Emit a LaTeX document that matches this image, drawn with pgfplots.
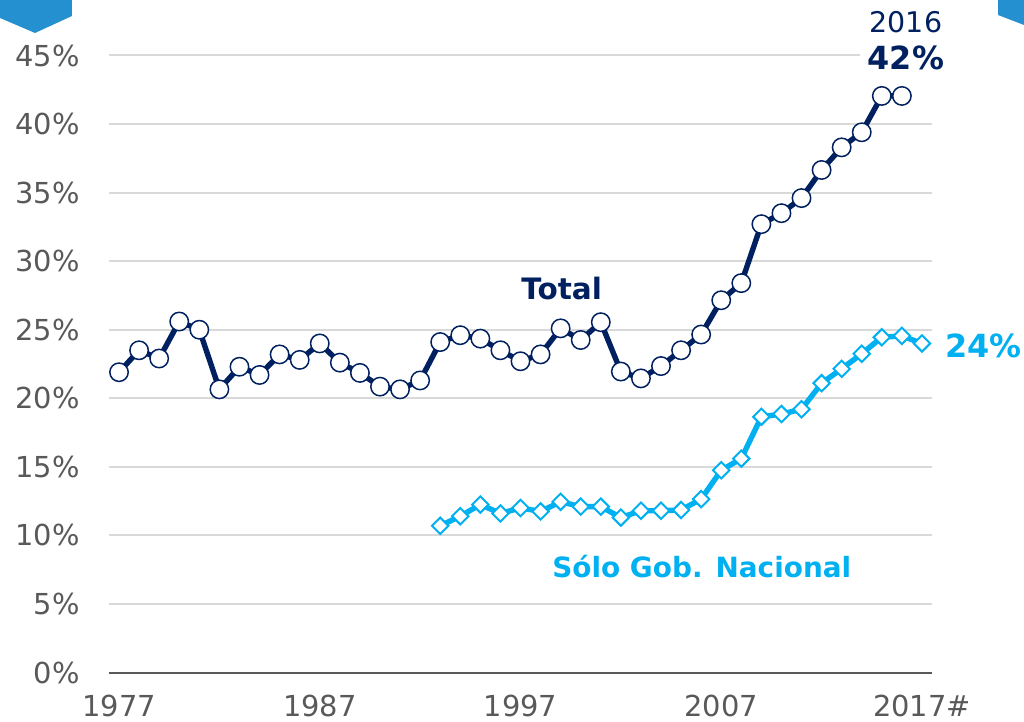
\documentclass[border=0pt]{standalone}
\usepackage{fontspec}
\setmainfont{DejaVu Sans}
\usepackage{pgfplots}
\pgfplotsset{compat=1.18}
\definecolor{navy}{HTML}{002060}
\definecolor{lblue}{HTML}{00B0F0}
\definecolor{gridc}{HTML}{D9D9D9}
\definecolor{axc}{HTML}{595959}
\definecolor{tabc}{HTML}{2590D0}
\begin{document}
\begin{tikzpicture}
\path[use as bounding box] (-54.5bp,-24.75bp) rectangle (457.5bp,336.25bp);
\fill[tabc] (-54.5bp,336.25bp) -- (-18.5bp,336.25bp) -- (-18.5bp,328.25bp) -- (-37bp,319.75bp) -- (-54.5bp,327.25bp) -- cycle;
\fill[tabc] (444.5bp,336.25bp) -- (457.5bp,336.25bp) -- (457.5bp,323.75bp) -- (444.5bp,328.75bp) -- cycle;
\begin{axis}[
  scale only axis, width=411.5bp, height=308.5bp,
  at={(0bp,0bp)}, anchor=south west,
  xmin=1976.5, xmax=2017.5, ymin=0, ymax=45,
  axis x line*=bottom, axis y line*=left,
  x axis line style={draw=axc, line width=1bp},
  y axis line style={draw=none},
  ytick={0,5,...,45},
  yticklabels={0\%,5\%,10\%,15\%,20\%,25\%,30\%,35\%,40\%,45\%},
  xtick={1977,1987,1997,2007,2017},
  xticklabels={1977,1987,1997,2007,2017\#},
  ymajorgrids, grid style={draw=gridc, line width=1bp},
  major tick length=0pt,
  tick label style={font=\fontsize{14.5}{17}\selectfont, text=axc, inner sep=0pt},
  yticklabel style={anchor=east, xshift=-14.5bp},
  xticklabel style={anchor=north, yshift=-11bp},
  clip=false,
]
\addplot[navy, line width=2.7bp, mark=*, mark size=4.6bp,
  mark options={fill=white, draw=navy, line width=0.75bp}] coordinates {
(1977,21.9) (1978,23.5) (1979,22.9) (1980,25.6) (1981,25.0) (1982,20.65)
(1983,22.3) (1984,21.7) (1985,23.2) (1986,22.8) (1987,24.0) (1988,22.6)
(1989,21.85) (1990,20.85) (1991,20.65) (1992,21.3) (1993,24.1) (1994,24.6)
(1995,24.35) (1996,23.5) (1997,22.7) (1998,23.2) (1999,25.1) (2000,24.25)
(2001,25.55) (2002,21.95) (2003,21.45) (2004,22.35) (2005,23.5) (2006,24.65)
(2007,27.15) (2008,28.4) (2009,32.7) (2010,33.5) (2011,34.6) (2012,36.65)
(2013,38.3) (2014,39.4) (2015,42.05) (2016,42.05)
};
\addplot[lblue, line width=2.7bp, mark=square*, mark size=2.9bp,
  mark options={fill=white, draw=lblue, line width=1bp, rotate=45}] coordinates {
(1993,10.7) (1994,11.4) (1995,12.25) (1996,11.6) (1997,12.0) (1998,11.75)
(1999,12.45) (2000,12.1) (2001,12.1) (2002,11.3) (2003,11.8) (2004,11.8)
(2005,11.85) (2006,12.65) (2007,14.75) (2008,15.6) (2009,18.65) (2010,18.85)
(2011,19.2) (2012,21.1) (2013,22.15) (2014,23.25) (2015,24.45) (2016,24.55)
(2017,24.0)
};
\node[font=\fontsize{14.8}{17}\selectfont\bfseries, text=navy] at (axis cs:1999.05,27.98) {Total};
\node[font=\fontsize{14}{17}\selectfont\bfseries, text=lblue] at (axis cs:2006.03,7.75) {Sólo Gob. Nacional};
\node[font=\fontsize{16}{19}\selectfont\bfseries, text=lblue, anchor=west, inner sep=0pt] at (axis cs:2018.15,23.84) {24\%};
\node[font=\fontsize{14.3}{17}\selectfont, text=navy, inner sep=0pt] at (axis cs:2016.2,47.4) {2016};
\node[font=\fontsize{16}{19}\selectfont\bfseries, text=navy, fill=white, inner xsep=4bp, inner ysep=1bp] at (axis cs:2016.2,44.8) {42\%};
\end{axis}
\end{tikzpicture}
\end{document}
